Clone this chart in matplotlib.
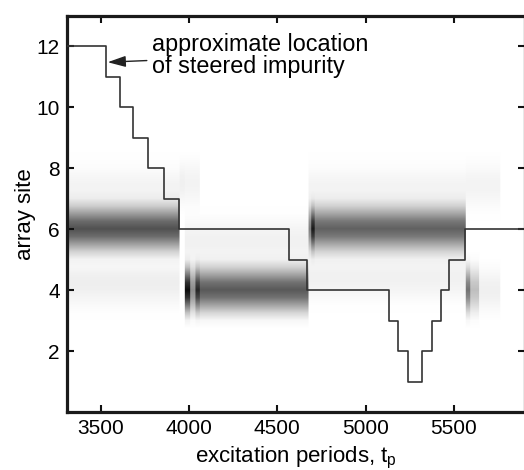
import numpy as np
import matplotlib
matplotlib.use("Agg")
import matplotlib.pyplot as plt

plt.rcParams['font.family'] = ['Liberation Sans', 'DejaVu Sans']

# ---- data ----
# step line: approximate location of steered impurity
step_t = [3300, 3532, 3607, 3683, 3768, 3858, 3946, 4568, 4671, 5133, 5184,
          5240, 5321, 5374, 5428, 5472, 5560, 5900]
step_site = [12, 11, 10, 9, 8, 7, 6, 5, 4, 3, 2, 1, 2, 3, 4, 5, 6, 6]

# heat map: intensity bands (start, end, centre site, peak darkness)
band_start  = [3300, 3300, 3300, 3945, 3975, 4005, 4035, 4060, 3975, 3975,
               4675, 4690, 4712, 4675, 4675, 5565, 5590, 5640, 5565]
band_end    = [3945, 3945, 3945, 3975, 4005, 4035, 4060, 4675, 4675, 4060,
               4690, 4712, 5565, 5565, 5565, 5590, 5640, 5760, 5760]
band_center = [6.0, 4.2, 7.3, 7.5, 4.0, 4.0, 4.0, 4.0, 5.6, 7.5,
               6.0, 6.0, 6.0, 4.4, 7.3, 4.0, 4.0, 4.0, 7.4]
band_peak   = [0.68, 0.07, 0.05, 0.06, 0.95, 0.45, 0.85, 0.65, 0.06, 0.05,
               0.50, 0.90, 0.62, 0.06, 0.05, 0.55, 0.25, 0.06, 0.05]
# vertical profile of a band (site offset -> relative darkness)
profile_offset = [-1.25, -1.0, -0.75, -0.5, -0.25, 0.0, 0.25, 0.5, 0.75, 1.0, 1.25]
profile_value  = [0.0, 0.05, 0.25, 0.55, 0.85, 1.0, 0.85, 0.55, 0.25, 0.05, 0.0]

xlim = (3308, 5900)
ylim = (0, 13)
xticks = [3500, 4000, 4500, 5000, 5500]
yticks = [2, 4, 6, 8, 10, 12]

# ---- figure ----
W, H = 524, 470
fig = plt.figure(figsize=(W / 100, H / 100), dpi=100)
ax_left, ax_right, ax_top, ax_bottom = 66.7, 524.6, 15.5, 412.3
ax = fig.add_axes([ax_left / W, 1 - ax_bottom / H,
                   (ax_right - ax_left) / W, (ax_bottom - ax_top) / H])

# build image grid from bands
dt = 5
dy = 0.25
t_centers = np.arange(3300 + dt / 2, 5900, dt)
y_centers = np.arange(0, 13 + dy / 2, dy)
img = np.zeros((len(y_centers), len(t_centers)))
for s, e, c, p in zip(band_start, band_end, band_center, band_peak):
    cols = (t_centers >= s) & (t_centers < e)
    prof = p * np.interp(y_centers - c, profile_offset, profile_value)
    img[:, cols] += prof[:, None]
img = np.clip(img, 0, 1)

ax.imshow(img, origin='lower', aspect='auto', cmap='gray_r', vmin=0, vmax=1,
          extent=[3300, 5900, -dy / 2, 13 + dy / 2], interpolation='bilinear',
          zorder=1)

ax.step(step_t, step_site, where='post', color='#333333', lw=1.2, zorder=3)

ax.annotate("approximate location\nof steered impurity", xy=(3540, 11.47),
            xytext=(3793, 12.42), ha='left', va='top', fontsize=16.8,
            linespacing=0.95,
            arrowprops=dict(arrowstyle='-|>,head_length=0.65,head_width=0.2',
                            color='#222222', lw=1.0, shrinkA=2, shrinkB=0),
            zorder=4)

ax.set_xlim(*xlim)
ax.set_ylim(*ylim)
ax.set_xticks(xticks)
ax.set_yticks(yticks)
ax.tick_params(direction='in', length=5, width=1.5, top=True, right=True,
               labelsize=15, pad=5, color='#111111')
for sp in ax.spines.values():
    sp.set_linewidth(2.3)
    sp.set_color('#1a1a1a')

ax.set_xlabel(r"excitation periods, t$_{\mathregular{p}}$", fontsize=16, labelpad=5)
ax.set_ylabel("array site", fontsize=16, labelpad=0)

fig.savefig("out.png", dpi=100)
